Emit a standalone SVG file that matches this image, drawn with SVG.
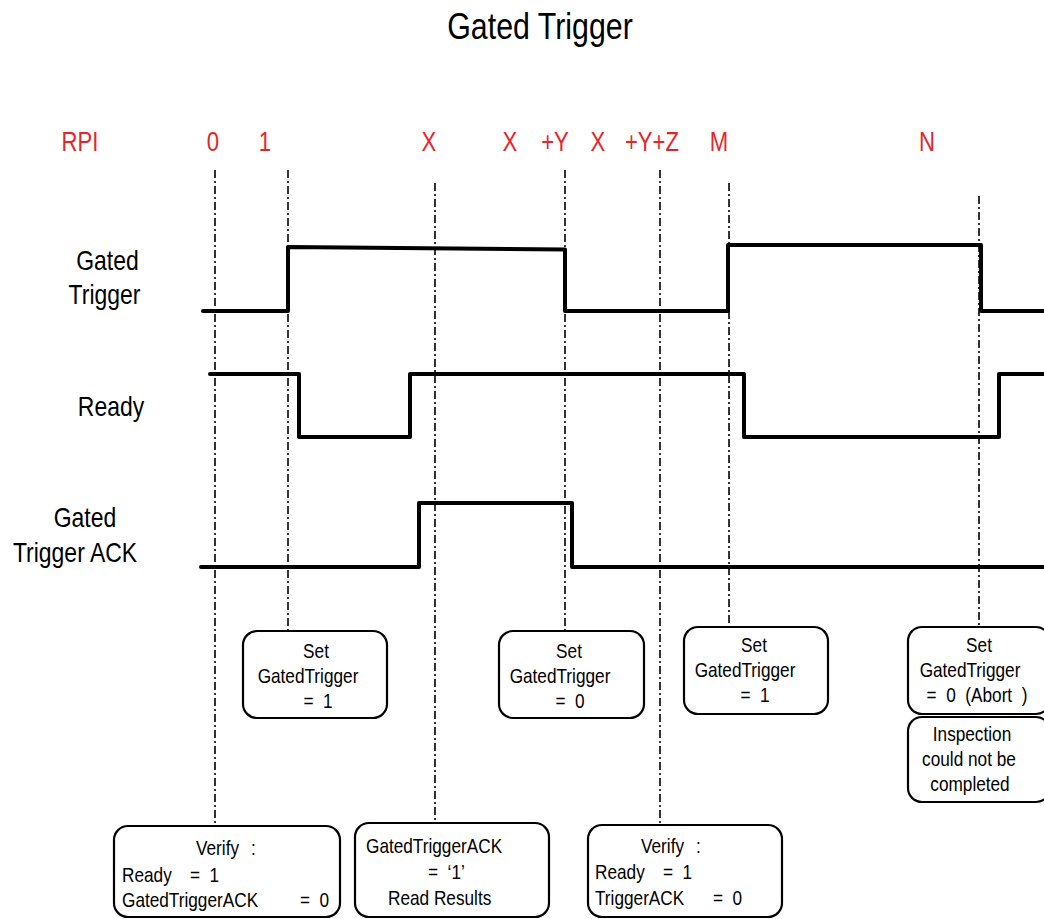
<svg xmlns="http://www.w3.org/2000/svg" width="1044" height="919" viewBox="0 0 1044 919" xml:space="preserve">
<style>
text{font-family:"Liberation Sans",Arial,sans-serif;fill:#000;white-space:pre}
.title{font-size:37px}
.lbl{font-size:28px}
.rpi{font-size:27px;fill:#e8242a}
.bx{font-size:21px}
.m{text-anchor:middle}
.box{fill:#fff;stroke:#000;stroke-width:2.2}
.grid{stroke:#000;stroke-width:1.6;stroke-dasharray:8 3 2 3;fill:none}
.wave{fill:none;stroke:#000;stroke-width:4;stroke-linejoin:round;stroke-linecap:round}
</style>
<rect width="1044" height="919" fill="#fff"/>
<text class="title m" transform="translate(540,39) scale(.82,1)">Gated Trigger</text>
<g id="rpi-labels">
<text class="rpi m" transform="translate(80,151) scale(.82,1)">RPI</text>
<text class="rpi m" transform="translate(213,151) scale(.82,1)">0</text>
<text class="rpi m" transform="translate(265,151) scale(.82,1)">1</text>
<text class="rpi m" transform="translate(429,151) scale(.82,1)">X</text>
<text class="rpi m" transform="translate(510,151) scale(.82,1)">X</text>
<text class="rpi m" transform="translate(555,151) scale(.82,1)">+Y</text>
<text class="rpi m" transform="translate(598,151) scale(.82,1)">X</text>
<text class="rpi m" transform="translate(652,151) scale(.82,1)">+Y+Z</text>
<text class="rpi m" transform="translate(719,151) scale(.82,1)">M</text>
<text class="rpi m" transform="translate(927,151) scale(.82,1)">N</text>
</g>
<g id="signal-labels">
<text class="lbl m" transform="translate(107.5,270) scale(.82,1)">Gated</text>
<text class="lbl m" transform="translate(104.5,304) scale(.82,1)">Trigger</text>
<text class="lbl m" transform="translate(111,416) scale(.82,1)">Ready</text>
<text class="lbl m" transform="translate(85,527) scale(.82,1)">Gated</text>
<text class="lbl m" transform="translate(75,562) scale(.82,1)">Trigger ACK</text>
</g>
<g id="connectors">
<line class="grid" x1="215" y1="170" x2="215" y2="826"/>
<line class="grid" x1="288" y1="170" x2="288" y2="631"/>
<line class="grid" x1="435" y1="183" x2="435" y2="823"/>
<line class="grid" x1="565" y1="170" x2="565" y2="631"/>
<line class="grid" x1="660" y1="170" x2="660" y2="825"/>
<line class="grid" x1="729" y1="183" x2="729" y2="627"/>
<line class="grid" x1="979" y1="196" x2="979" y2="627"/>
</g>
<g id="waveforms">
<polyline class="wave" points="203,311 288,311 288,247 565,249.5 565,311 728,311 728,245 981,245 981,311 1046,311"/>
<polyline class="wave" points="210,374 299,374 299,437 410,437 410,374 744,374 744,437 999,437 999,374 1046,374"/>
<polyline class="wave" points="201,567 419,567 419,503 572,503 572,567 1046,567"/>
</g>
<g id="box-set1">
<rect class="box" x="243" y="631" width="144" height="87" rx="14"/>
<text class="bx m" transform="translate(316,658) scale(.82,1)">Set</text>
<text class="bx m" transform="translate(308,683) scale(.82,1)">GatedTrigger</text>
<text class="bx m" transform="translate(318,708) scale(.82,1)">=  1</text>
</g>
<g id="box-set0">
<rect class="box" x="499" y="631" width="145" height="87" rx="14"/>
<text class="bx m" transform="translate(569,658) scale(.82,1)">Set</text>
<text class="bx m" transform="translate(560,683) scale(.82,1)">GatedTrigger</text>
<text class="bx m" transform="translate(570,708) scale(.82,1)">=  0</text>
</g>
<g id="box-set1-m">
<rect class="box" x="684" y="627" width="144" height="87" rx="14"/>
<text class="bx m" transform="translate(754,652) scale(.82,1)">Set</text>
<text class="bx m" transform="translate(745,677) scale(.82,1)">GatedTrigger</text>
<text class="bx m" transform="translate(755,702) scale(.82,1)">=  1</text>
</g>
<g id="box-abort">
<rect class="box" x="908" y="627" width="142" height="87" rx="14"/>
<text class="bx m" transform="translate(979,652) scale(.82,1)">Set</text>
<text class="bx m" transform="translate(970,677) scale(.82,1)">GatedTrigger</text>
<text class="bx m" transform="translate(977,702) scale(.82,1)">=  0  (Abort  )</text>
</g>
<g id="box-inspection">
<rect class="box" x="908" y="717" width="142" height="85" rx="14"/>
<text class="bx m" transform="translate(972,741) scale(.82,1)">Inspection</text>
<text class="bx m" transform="translate(969,766) scale(.82,1)">could not be</text>
<text class="bx m" transform="translate(970,791) scale(.82,1)">completed</text>
</g>
<g id="box-verify1">
<rect class="box" x="114" y="826" width="226" height="91" rx="14"/>
<text class="bx" transform="translate(196,855) scale(.82,1)">Verify</text>
<text class="bx" transform="translate(251,855) scale(.82,1)">:</text>
<text class="bx" transform="translate(122,882) scale(.82,1)">Ready</text>
<text class="bx" transform="translate(190,882) scale(.82,1)">=  1</text>
<text class="bx" transform="translate(122,907) scale(.82,1)">GatedTriggerACK</text>
<text class="bx" transform="translate(300,907) scale(.82,1)">=  0</text>
</g>
<g id="box-ack">
<rect class="box" x="355" y="823" width="194" height="94" rx="14"/>
<text class="bx" transform="translate(366,853) scale(.82,1)">GatedTriggerACK</text>
<text class="bx" transform="translate(428,879) scale(.82,1)">=  ‘1’</text>
<text class="bx" transform="translate(388,905) scale(.82,1)">Read Results</text>
</g>
<g id="box-verify2">
<rect class="box" x="588" y="825" width="194" height="92" rx="14"/>
<text class="bx" transform="translate(641,853) scale(.82,1)">Verify</text>
<text class="bx" transform="translate(696,853) scale(.82,1)">:</text>
<text class="bx" transform="translate(595,879) scale(.82,1)">Ready</text>
<text class="bx" transform="translate(663,879) scale(.82,1)">=  1</text>
<text class="bx" transform="translate(595,905) scale(.82,1)">TriggerACK</text>
<text class="bx" transform="translate(713,905) scale(.82,1)">=  0</text>
</g>
</svg>
